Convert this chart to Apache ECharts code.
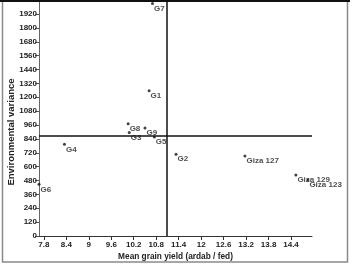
<!DOCTYPE html>
<html>
<head>
<meta charset="utf-8">
<script src="https://cdn.jsdelivr.net/npm/echarts@6/dist/echarts.min.js"></script>
<style>html,body{margin:0;padding:0;background:#fff;}#c{width:354px;height:266px;}</style>
</head>
<body>
<div id="c"></div>
<script>
var genotypes = ['G1', 'G2', 'G3', 'G4', 'G5', 'G6', 'G7', 'G8', 'G9', 'Giza 123', 'Giza 127', 'Giza 129'];
var meanYield = [10.61, 11.33, 10.08, 8.35, 10.75, 7.67, 10.70, 10.05, 10.50, 14.85, 13.17, 14.53];
var envVariance = [1257, 707, 895, 793, 856, 447, 2010, 971, 934, 484, 692, 528];
var grandMeanYield = 11.09;
var grandMeanVariance = 871;
var xTicks = [7.8, 8.4, 9, 9.6, 10.2, 10.8, 11.4, 12, 12.6, 13.2, 13.8, 14.4];
var yTicks = [0, 120, 240, 360, 480, 600, 720, 840, 960, 1080, 1200, 1320, 1440, 1560, 1680, 1800, 1920];

var points = genotypes.map(function (g, i) { return { name: g, value: [meanYield[i], envVariance[i]] }; });
var font = 'Liberation Sans, Arial, sans-serif';

var chart = echarts.init(document.getElementById('c'), null, { renderer: 'canvas' });
chart.setOption({
  animation: false,
  backgroundColor: '#fff',
  grid: { left: 39, right: 42, top: 2, bottom: 30, containLabel: false, outerBoundsMode: 'none' },
  graphic: [
    { type: 'rect', shape: { x: 2.5, y: 1, width: 345, height: 261 }, style: { fill: 'none', stroke: '#8a8a8a', lineWidth: 1.5 }, z: -1 },
    { type: 'line', shape: { x1: 0, y1: 1, x2: 350, y2: 1 }, style: { stroke: '#111', lineWidth: 2 }, z: 100 }
  ],
  xAxis: {
    type: 'value', min: 7.67, max: 14.96,
    name: 'Mean grain yield (ardab / fed)', nameLocation: 'middle', nameGap: 17, nameMoveOverlap: false,
    nameTextStyle: { fontFamily: font, fontSize: 8.3, fontWeight: 'bold', color: '#222' },
    axisLine: { lineStyle: { color: '#333', width: 1 } },
    axisTick: { show: true, length: 4, customValues: xTicks, lineStyle: { color: '#333' } },
    axisLabel: { customValues: xTicks, fontFamily: font, fontSize: 8, fontWeight: 'bold', color: '#222', margin: 5,
      formatter: function (v) { return String(v); } },
    splitLine: { show: false }
  },
  yAxis: {
    type: 'value', min: 0, max: 2024,
    name: 'Environmental variance', nameLocation: 'middle', nameGap: 23, nameRotate: 90, nameMoveOverlap: false,
    nameTextStyle: { fontFamily: font, fontSize: 9.5, fontWeight: 'bold', color: '#222', padding: [0, 26, 0, 0] },
    axisLine: { show: true, lineStyle: { color: '#666', width: 1 } },
    axisTick: { show: true, length: 4, customValues: yTicks, lineStyle: { color: '#555' } },
    axisLabel: { customValues: yTicks, fontFamily: font, fontSize: 8, fontWeight: 'bold', color: '#222', margin: 2,
      formatter: function (v) { return String(v); } },
    splitLine: { show: false }
  },
  series: [{
    type: 'scatter',
    data: points,
    symbol: 'circle', symbolSize: 3,
    itemStyle: { color: '#111' },
    clip: false,
    label: {
      show: true, position: 'right', distance: 0, offset: [0, 5],
      formatter: function (p) { return p.name; },
      fontFamily: font, fontSize: 8, fontWeight: 'bold', color: '#222'
    },
    markLine: {
      silent: true, symbol: 'none', label: { show: false },
      lineStyle: { color: '#111', width: 1.5, type: 'solid' },
      data: [{ xAxis: grandMeanYield }, { yAxis: grandMeanVariance }]
    }
  }]
});
</script>
</body>
</html>
